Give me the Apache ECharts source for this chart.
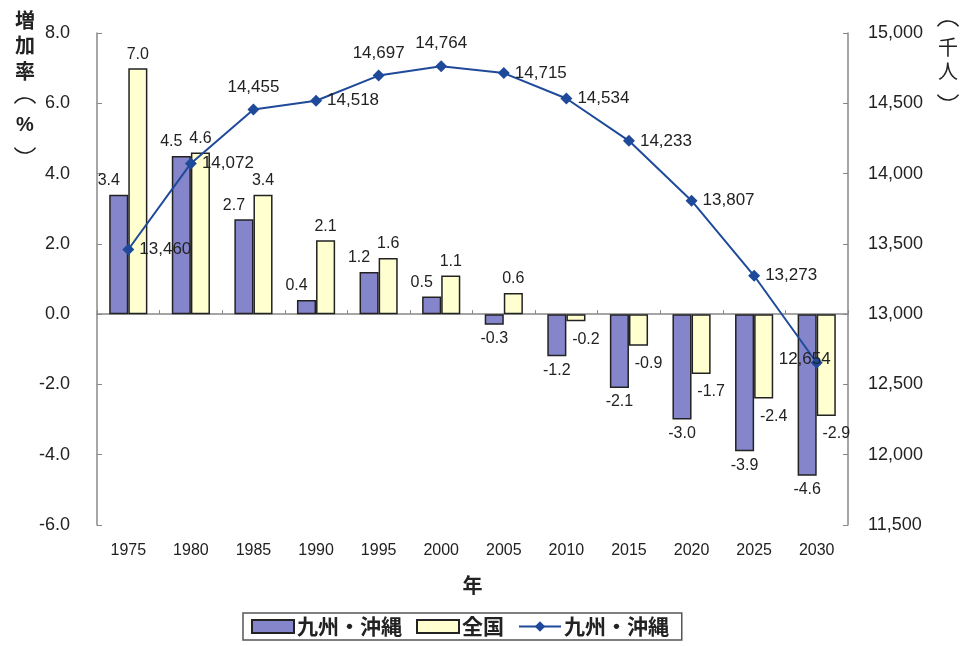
<!DOCTYPE html>
<html>
<head>
<meta charset="utf-8">
<script src="https://cdn.jsdelivr.net/npm/echarts@6/dist/echarts.min.js"></script>
<style>html,body{margin:0;padding:0;background:#fff}#c{width:965px;height:646px}</style>
</head>
<body>
<div id="c"></div>
<script>
const years = ['1975','1980','1985','1990','1995','2000','2005','2010','2015','2020','2025','2030'];
const kyushuRate = [3.4, 4.5, 2.7, 0.4, 1.2, 0.5, -0.3, -1.2, -2.1, -3.0, -3.9, -4.6];
const nationalRate = [7.0, 4.6, 3.4, 2.1, 1.6, 1.1, 0.6, -0.2, -0.9, -1.7, -2.4, -2.9];
const kyushuPop = [13460, 14072, 14455, 14518, 14697, 14764, 14715, 14534, 14233, 13807, 13273, 12654];
const popLabelPos = ['right','right','top','right','top','top','right','right','right','right','right','inside'];

const FONT = '"Liberation Sans", Arial, sans-serif';
const JP = '"Noto Sans CJK JP", sans-serif';
const fmt = v => v.toFixed(1);
const fmtPop = v => v.toLocaleString('en-US');

const chart = echarts.init(document.getElementById('c'));

const kyushuData = kyushuRate.map(v => ({
  value: v,
  label: v >= 0 ? {position: 'top', offset: [-10, 0]} : {position: 'bottom'}
}));
const nationalData = nationalRate.map(v => ({
  value: v,
  label: v >= 0 ? {position: 'top'} : {position: 'bottom', offset: [10, 4]}
}));
const popData = kyushuPop.map((v, i) => {
  const p = popLabelPos[i];
  const o = {value: v, label: {position: p}};
  if (p === 'inside') o.label.offset = [-12, -3];
  if (p === 'top') o.label.distance = 8;
  return o;
});

function ctext(ch, x, y, opts) {
  opts = opts || {};
  return {
    type: 'text', x: x, y: y,
    style: {
      text: ch, fill: '#222', align: 'center', verticalAlign: 'middle',
      font: (opts.bold ? 'bold ' : '') + (opts.size || 20) + 'px ' + (opts.family || '"Noto Sans CJK JP"')
    }
  };
}
// vertical-writing brackets drawn as arcs: up = opening (︵), down = closing (︶)
function bracket(x, y, up) {
  const r = 13;
  return {
    type: 'arc',
    shape: up
      ? {cx: x, cy: y + 9, r: r, startAngle: Math.PI * 1.2, endAngle: Math.PI * 1.8, clockwise: true}
      : {cx: x, cy: y - 9, r: r, startAngle: Math.PI * 0.2, endAngle: Math.PI * 0.8, clockwise: true},
    style: {stroke: '#222', lineWidth: 1.6, fill: null}
  };
}

chart.setOption({
  animation: false,
  textStyle: {fontFamily: FONT},
  grid: {left: 97, right: 117, top: 33, bottom: 121},
  legend: {
    left: 243, top: 613,
    padding: [3, 8, 3, 8],
    borderColor: '#555', borderWidth: 1.5,
    itemWidth: 42, itemHeight: 13, itemGap: 14,
    textStyle: {fontFamily: JP, fontSize: 21, color: '#222', fontWeight: 'bold', padding: [0, 0, 0, -2]},
    data: [{name: '九州・沖縄', icon: 'rect'}, {name: '全国', icon: 'rect'}, {name: '九州・沖縄 '}]
  },
  xAxis: [{
    type: 'category', data: years,
    axisLine: {show: false}, axisTick: {show: false},
    axisLabel: {fontSize: 16, color: '#222', margin: 18, fontFamily: FONT},
    name: '年', nameLocation: 'middle', nameGap: 50,
    nameTextStyle: {fontFamily: JP, fontSize: 20, color: '#222', fontWeight: 'bold'}
  }, {
    type: 'category', data: years, position: 'bottom',
    axisLine: {show: true, onZero: true, onZeroAxisIndex: 0, lineStyle: {color: '#888', width: 1.5}},
    axisTick: {show: true, inside: true, length: 4, lineStyle: {color: '#888'}},
    axisLabel: {show: false}
  }],
  yAxis: [{
    type: 'value', min: -6, max: 8, interval: 2,
    splitLine: {show: false},
    axisLine: {show: true, lineStyle: {color: '#888', width: 1.5}},
    axisTick: {show: true, inside: true, length: 5, lineStyle: {color: '#888'}},
    axisLabel: {formatter: fmt, fontSize: 18, color: '#222', margin: 27}
  }, {
    type: 'value', min: 11500, max: 15000, interval: 500,
    splitLine: {show: false},
    axisLine: {show: true, lineStyle: {color: '#888', width: 1.5}},
    axisTick: {show: true, inside: true, length: 5, lineStyle: {color: '#888'}},
    axisLabel: {formatter: fmtPop, fontSize: 18, color: '#222', margin: 20}
  }],
  graphic: [
    ctext('増', 25, 20, {bold: true}),
    ctext('加', 25, 45, {bold: true}),
    ctext('率', 25, 71, {bold: true}),
    bracket(25, 102, true),
    ctext('%', 25, 125, {bold: true, size: 20, family: '"Liberation Sans"'}),
    bracket(25, 149, false),
    bracket(948, 25, true),
    ctext('千', 948, 47),
    ctext('人', 948, 71),
    bracket(948, 96, false)
  ],
  series: [{
    name: '九州・沖縄', type: 'bar', data: kyushuData,
    barGap: '0%', barCategoryGap: '39%',
    itemStyle: {color: '#8585cc', borderColor: '#222', borderWidth: 1.5},
    label: {show: true, formatter: p => fmt(p.value), fontSize: 16, color: '#222', distance: 6}
  }, {
    name: '全国', type: 'bar', data: nationalData,
    itemStyle: {color: '#ffffd0', borderColor: '#222', borderWidth: 1.5},
    label: {show: true, formatter: p => fmt(p.value), fontSize: 16, color: '#222', distance: 6}
  }, {
    name: '九州・沖縄 ', type: 'line', yAxisIndex: 1, data: popData,
    symbol: 'diamond', symbolSize: 12,
    lineStyle: {color: '#1f4a9a', width: 2},
    itemStyle: {color: '#1f4a9a'},
    label: {show: true, formatter: p => fmtPop(p.value), fontSize: 17, color: '#222', distance: 5},
    z: 5
  }]
});
</script>
</body>
</html>
